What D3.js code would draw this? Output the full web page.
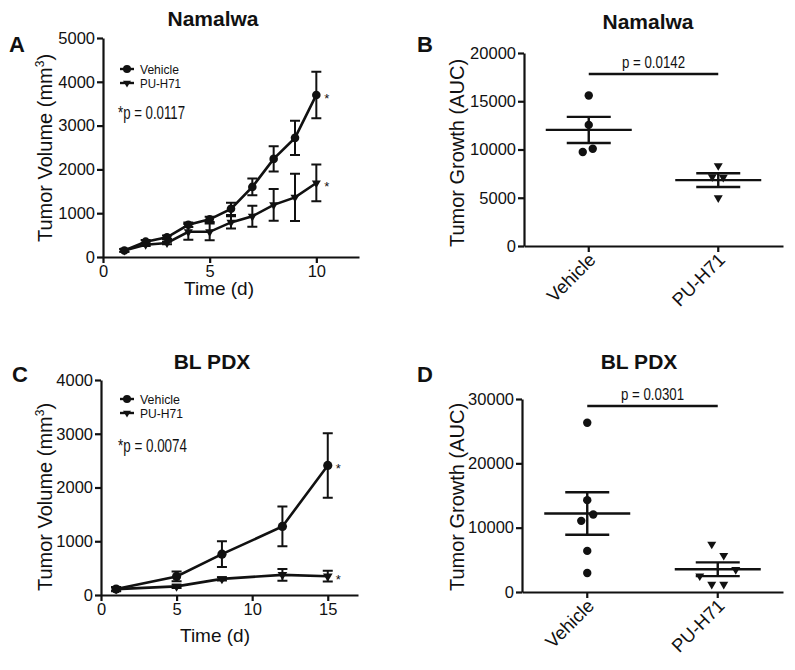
<!DOCTYPE html>
<html><head><meta charset="utf-8">
<script src="https://cdn.jsdelivr.net/npm/d3@7"></script>
<style>body{margin:0;background:#fff}</style>
</head><body><svg id="c" width="795" height="670"></svg>
<script>
// ---------------- data ----------------
const daysA = [1,2,3,4,5,6,7,8,9,10];
const vehA = [150,350,450,735,860,1100,1600,2240,2720,3700];
const vehAErr = [30,40,40,50,60,140,190,290,390,530];
const puA = [150,280,320,575,575,790,930,1190,1360,1690];
const puAErr = [30,30,30,180,190,140,240,365,540,420];

const daysC = [1,5,8,12,15];
const vehC = [110,345,760,1275,2410];
const vehCErr = [40,90,240,370,600];
const puC = [110,160,300,375,350];
const puCErr = [30,30,30,110,100];

const groups = ["Vehicle","PU-H71"];
const vehB = [15600,12550,10080,9740];
const puB = [8320,7170,7110,4990];
const meanB = [12030,6830];
const semB = [1350,715];

const vehD = [26300,14280,12050,11060,6390,2960];
const puD = [7430,5670,3490,2490,1200,1200];
const meanD = [12200,3540];
const semD = [3300,1065];

const ticksAx = [0,5,10], ticksAy = [0,1000,2000,3000,4000,5000];
const ticksCx = [0,5,10,15], ticksCy = [0,1000,2000,3000,4000];
const ticksBy = [0,5000,10000,15000,20000];
const ticksDy = [0,10000,20000,30000];
const pA = "*p = 0.0117", pC = "*p = 0.0074", pB = "p = 0.0142", pD = "p = 0.0301";

// ---------------- drawing ----------------
const svg = d3.select("#c");
const FONT = "'Liberation Sans', Arial, sans-serif";
const INK = "#111";

function styleAxis(g){
  g.select(".domain").attr("stroke",INK).attr("stroke-width",2.2);
  g.selectAll(".tick line").attr("stroke",INK).attr("stroke-width",2.2);
  g.selectAll(".tick text").attr("fill",INK).style("font-family",FONT).style("font-size","16.5px");
}
function tri(g, cx, cy, w){
  const h = w*0.85;
  g.append("path").attr("d",`M${cx-w/2},${cy-h/3}L${cx+w/2},${cy-h/3}L${cx},${cy+2*h/3}Z`).attr("fill",INK);
}
function txt(x,y,s,size,weight,anchor){
  return svg.append("text").attr("x",x).attr("y",y).text(s)
    .style("font-family",FONT).style("font-size",size+"px").style("font-weight",weight||"normal")
    .attr("text-anchor",anchor||"start").attr("fill",INK);
}

function linePanel(o){
  const x = d3.scaleLinear().domain(o.xdom).range(o.xr);
  const y = d3.scaleLinear().domain(o.ydom).range(o.yr);
  svg.append("g").attr("transform",`translate(0,${o.yr[0]})`)
    .call(d3.axisBottom(x).tickValues(o.xt).tickSize(6).tickSizeOuter(0).tickPadding(2)).call(styleAxis);
  svg.append("g").attr("transform",`translate(${o.xr[0]},0)`)
    .call(d3.axisLeft(y).tickValues(o.yt).tickSize(6).tickSizeOuter(0).tickPadding(2).tickFormat(d3.format("d"))).call(styleAxis);
  const g = svg.append("g");
  const series = [{v:o.veh,e:o.vehErr,m:"c"},{v:o.pu,e:o.puErr,m:"t"}];
  series.forEach(s=>{
    o.days.forEach((d,i)=>{
      const cx=x(d), y1=y(s.v[i]+s.e[i]), y0=y(Math.max(0,s.v[i]-s.e[i]));
      g.append("path").attr("d",`M${cx},${y0}V${y1}M${cx-5},${y1}H${cx+5}M${cx-5},${y0}H${cx+5}`)
        .attr("stroke",INK).attr("stroke-width",2).attr("fill","none");
    });
  });
  series.forEach(s=>{
    g.append("path").datum(o.days.map((d,i)=>[x(d),y(s.v[i])]))
      .attr("d",d3.line()).attr("fill","none").attr("stroke",INK).attr("stroke-width",2.6);
  });
  series.forEach(s=>{
    o.days.forEach((d,i)=>{
      if(s.m==="c") g.append("circle").attr("cx",x(d)).attr("cy",y(s.v[i])).attr("r",o.r).attr("fill",INK);
      else tri(g,x(d),y(s.v[i]),o.r*2.1);
    });
  });
  // asterisks
  const last = o.days.length-1;
  txt(x(o.days[last])+8, y(o.veh[last])+8, "*", 13);
  txt(x(o.days[last])+8, y(o.pu[last])+8, "*", 13);
  // legend
  const ly = o.legY;
  svg.append("line").attr("x1",120).attr("x2",134).attr("y1",ly).attr("y2",ly).attr("stroke",INK).attr("stroke-width",2.4);
  svg.append("circle").attr("cx",127).attr("cy",ly).attr("r",4).attr("fill",INK);
  txt(140, ly+4.5, groups[0], 12.5).attr("textLength",o.legW[0]).attr("lengthAdjust","spacingAndGlyphs");
  svg.append("line").attr("x1",120).attr("x2",134).attr("y1",ly+14).attr("y2",ly+14).attr("stroke",INK).attr("stroke-width",2.4);
  tri(svg,127,ly+14,8);
  txt(140, ly+18.5, groups[1], 12.5).attr("textLength",o.legW[1]).attr("lengthAdjust","spacingAndGlyphs");
  txt(118, o.pY, o.pText, 18).attr("textLength",o.pW).attr("lengthAdjust","spacingAndGlyphs");
  // labels
  txt(o.titleX, o.titleY, o.title, 21, "bold", "middle");
  txt(o.letterX, o.letterY, o.letter, 22, "bold");
  txt(o.xlabX, o.xlabY, "Time (d)", 19, "normal", "middle");
  const yl = svg.append("text").attr("transform",`translate(${o.ylabX},${o.ylabY}) rotate(-90)`)
    .attr("text-anchor","middle").style("font-family",FONT).style("font-size","20px").attr("fill",INK);
  yl.append("tspan").text("Tumor Volume (mm");
  yl.append("tspan").text("3").style("font-size","12px").attr("dy",-8);
  yl.append("tspan").text(")").attr("dy",8);
}

function dotPanel(o){
  const x = d3.scaleBand().domain(groups).range(o.xr);
  const y = d3.scaleLinear().domain(o.ydom).range(o.yr);
  svg.append("g").attr("transform",`translate(0,${o.yr[0]})`)
    .call(d3.axisBottom(x).tickSize(6).tickSizeOuter(0).tickFormat("")).call(styleAxis);
  svg.append("g").attr("transform",`translate(${o.xr[0]},0)`)
    .call(d3.axisLeft(y).tickValues(o.yt).tickSize(6).tickSizeOuter(0).tickPadding(2).tickFormat(d3.format("d"))).call(styleAxis);
  groups.forEach((gname,k)=>{
    const cx = x(gname)+x.bandwidth()/2;
    svg.append("text").attr("transform",`translate(${cx+8},${o.yr[0]+15}) rotate(-45)`)
      .attr("text-anchor","end").text(gname).style("font-family",FONT).style("font-size","18.5px").attr("fill",INK);
    const vals = k===0 ? o.veh : o.pu;
    const jit = k===0 ? o.jv : o.jp;
    vals.forEach((v,i)=>{
      if(k===0) svg.append("circle").attr("cx",cx+jit[i]).attr("cy",y(v)).attr("r",4.2).attr("fill",INK);
      else tri(svg,cx+jit[i],y(v),9);
    });
    const m=o.mean[k], s=o.sem[k];
    svg.append("path").attr("d",
      `M${cx-43},${y(m)}H${cx+43}M${cx-22},${y(m+s)}H${cx+22}M${cx-22},${y(m-s)}H${cx+22}M${cx},${y(m+s)}V${y(m-s)}`)
      .attr("stroke",INK).attr("stroke-width",2.4).attr("fill","none");
  });
  const c0 = x(groups[0])+x.bandwidth()/2, c1 = x(groups[1])+x.bandwidth()/2;
  svg.append("line").attr("x1",c0).attr("x2",c1).attr("y1",o.barY).attr("y2",o.barY).attr("stroke",INK).attr("stroke-width",2.4);
  txt((c0+c1)/2, o.barY-6, o.pText, 17, "normal", "middle").attr("textLength",o.pW).attr("lengthAdjust","spacingAndGlyphs");
  txt(o.titleX, o.titleY, o.title, 21, "bold", "middle");
  txt(o.letterX, o.letterY, o.letter, 22, "bold");
  svg.append("text").attr("transform",`translate(${o.ylabX},${o.ylabY}) rotate(-90)`)
    .attr("text-anchor","middle").style("font-family",FONT).style("font-size","20px").attr("fill",INK)
    .text("Tumor Growth (AUC)");
}

linePanel({xdom:[0,12], xr:[103,359], ydom:[0,5000], yr:[257,38], xt:ticksAx, yt:ticksAy,
  days:daysA, veh:vehA, vehErr:vehAErr, pu:puA, puErr:puAErr, r:4.3,
  legY:69, legW:[39,41], pText:pA, pY:119, pW:67,
  title:"Namalwa", titleX:213, titleY:26, letter:"A", letterX:9, letterY:52,
  xlabX:219, xlabY:295, ylabX:52, ylabY:148});

linePanel({xdom:[0,17], xr:[101,358], ydom:[0,4000], yr:[595,380], xt:ticksCx, yt:ticksCy,
  days:daysC, veh:vehC, vehErr:vehCErr, pu:puC, puErr:puCErr, r:4.6,
  legY:399, legW:[40,43], pText:pC, pY:452, pW:69,
  title:"BL PDX", titleX:212, titleY:369, letter:"C", letterX:12, letterY:382,
  xlabX:215, xlabY:642, ylabX:52, ylabY:497});

dotPanel({xr:[524,783], ydom:[0,20000], yr:[246,53], yt:ticksBy,
  veh:vehB, pu:puB, mean:meanB, sem:semB, jv:[0,0,4,-6], jp:[0,-6,5,0],
  barY:74, pText:pB, pW:63, title:"Namalwa", titleX:648, titleY:29, letter:"B", letterX:417, letterY:52,
  ylabX:464, ylabY:153});

dotPanel({xr:[522,783], ydom:[0,30000], yr:[592,399], yt:ticksDy,
  veh:vehD, pu:puD, mean:meanD, sem:semD, jv:[0,0,6,-6,0,0], jp:[-6,6,18,-18,-6,6],
  barY:406, pText:pD, pW:63, title:"BL PDX", titleX:639, titleY:369, letter:"D", letterX:417, letterY:382,
  ylabX:464, ylabY:497});
</script></body></html>
